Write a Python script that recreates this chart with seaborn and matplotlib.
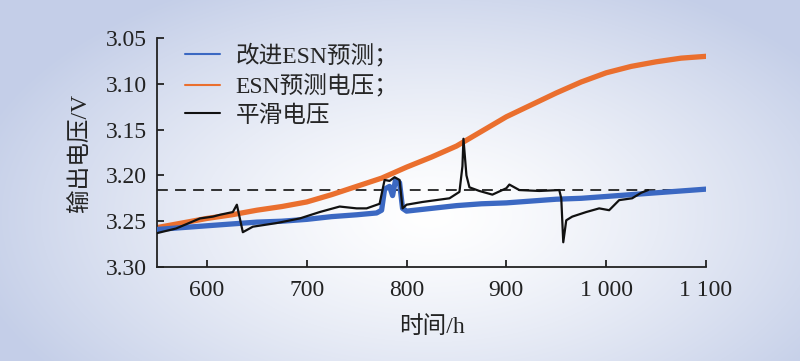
import numpy as np
import pandas as pd
import matplotlib
matplotlib.use("Agg")
import matplotlib.pyplot as plt
from matplotlib.lines import Line2D
import seaborn as sns

# -------------------------------------
# podaci (očitano sa slike)
# -------------------------------------
orange_h = [550, 575, 600, 625, 650, 675, 700, 725, 750, 775, 800, 825, 850, 875,
            900, 925, 950, 975, 1000, 1025, 1050, 1075, 1100]
orange_v = [3.257, 3.252, 3.247, 3.243, 3.238, 3.234, 3.229, 3.221, 3.212, 3.203,
            3.191, 3.180, 3.168, 3.152, 3.136, 3.123, 3.110, 3.098, 3.088, 3.081,
            3.076, 3.072, 3.070]

blue_h = [550, 575, 600, 625, 650, 675, 700, 725, 750, 770, 775, 778, 783, 786,
          789, 793, 796, 800, 825, 850, 875, 900, 925, 950, 975, 1000, 1025,
          1050, 1075, 1100]
blue_v = [3.259, 3.257, 3.255, 3.253, 3.251, 3.250, 3.248, 3.245, 3.243, 3.241,
          3.238, 3.215, 3.212, 3.222, 3.205, 3.208, 3.236, 3.239, 3.236, 3.233,
          3.231, 3.230, 3.228, 3.226, 3.225, 3.223, 3.221, 3.219, 3.217, 3.215]

black_h = [550, 569, 593, 606, 613, 626, 630, 636, 646, 670, 693, 713, 733, 750,
           760, 773, 778, 783, 788, 793, 796, 800, 816, 843, 853, 856, 857, 860,
           863, 873, 886, 900, 903, 913, 933, 953, 955, 957, 960, 966, 980, 993,
           1003, 1013, 1026, 1035, 1042]
black_v = [3.263, 3.258, 3.247, 3.245, 3.243, 3.240, 3.232, 3.262, 3.256, 3.252,
           3.247, 3.240, 3.234, 3.236, 3.236, 3.231, 3.205, 3.206, 3.202, 3.205,
           3.236, 3.232, 3.229, 3.225, 3.218, 3.190, 3.160, 3.200, 3.213, 3.217,
           3.221, 3.214, 3.210, 3.216, 3.217, 3.216, 3.225, 3.273, 3.249, 3.245,
           3.240, 3.236, 3.238, 3.227, 3.225, 3.219, 3.216]

ref_v = 3.216

x_ticks = [600, 700, 800, 900, 1000, 1100]
x_labels = ["600", "700", "800", "900", "1 000", "1 100"]
y_ticks = [3.05, 3.10, 3.15, 3.20, 3.25, 3.30]
y_labels = ["3.05", "3.10", "3.15", "3.20", "3.25", "3.30"]

c_blue = "#3b68c2"
c_orange = "#ea6f2e"
c_text = "#222222"

sns.set_style("white")
plt.rcParams["font.family"] = ["Liberation Serif", "Noto Sans CJK SC"]
plt.rcParams["axes.unicode_minus"] = False

fig = plt.figure(figsize=(8, 3.61), dpi=100)

# pozadina s gradijentom
bg = fig.add_axes([0, 0, 1, 1], zorder=-5)
yy, xx = np.mgrid[0:361, 0:800]
d = np.sqrt(((xx - 430) / 470.0) ** 2 + ((yy - 215) / 260.0) ** 2)
t = np.clip(d, 0, 1) ** 1.3
white = np.array([1.0, 1.0, 1.0])
blue_bg = np.array([0.77, 0.81, 0.91])
img = white[None, None, :] * (1 - t[..., None]) + blue_bg[None, None, :] * t[..., None]
bg.imshow(img, aspect="auto", extent=[0, 1, 0, 1])
bg.axis("off")

ax = fig.add_axes([157 / 800, 1 - 267 / 361, (706 - 157) / 800, (267 - 38) / 361])
ax.set_facecolor("none")

ax.axhline(ref_v, color=c_text, lw=1.3, ls=(0, (6, 4)), zorder=1)
sns.lineplot(x=orange_h, y=orange_v, color=c_orange, lw=3.8, ax=ax, zorder=2)
sns.lineplot(x=blue_h, y=blue_v, color=c_blue, lw=3.8, ax=ax, zorder=3)
sns.lineplot(x=black_h, y=black_v, color="#111111", lw=1.6, ax=ax, zorder=4)

ax.set_xlim(550, 1100)
ax.set_ylim(3.30, 3.05)
ax.set_xticks(x_ticks)
ax.set_xticklabels(x_labels)
ax.set_yticks(y_ticks)
ax.set_yticklabels(y_labels)
ax.tick_params(direction="in", length=5, width=1.3, labelsize=17, colors=c_text,
               left=True, bottom=True)
ax.tick_params(axis="x", pad=9)
ax.tick_params(axis="y", pad=7)
for s in ["top", "right"]:
    ax.spines[s].set_visible(False)
for s in ["left", "bottom"]:
    ax.spines[s].set_color(c_text)
    ax.spines[s].set_linewidth(1.3)

ax.set_xlabel("时间/h", fontsize=17, color=c_text, labelpad=11)
ax.set_ylabel("输出电压/V", fontsize=17, color=c_text, labelpad=11)

handles = [Line2D([], [], color=c_blue, lw=1.5),
           Line2D([], [], color=c_orange, lw=1.5),
           Line2D([], [], color="#111111", lw=1.5)]
labels = ["改进ESN预测；", "ESN预测电压；", "平滑电压"]
ax.legend(handles, labels, loc="upper left", bbox_to_anchor=(0.051, 0.975), frameon=False,
          fontsize=17, handlelength=1.5, handletextpad=0.63, labelspacing=0.3,
          borderpad=0, borderaxespad=0)

fig.savefig("out.png", dpi=100)
